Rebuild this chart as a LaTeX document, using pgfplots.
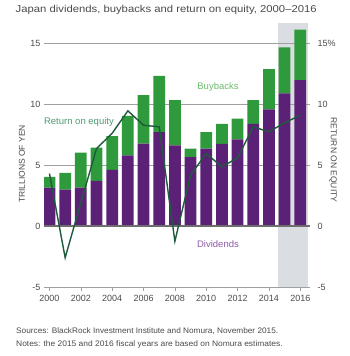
\documentclass[border=0pt]{standalone}
\usepackage{pgfplots}
\pgfplotsset{compat=1.18}
\usepackage{fontspec}
\setmainfont{Liberation Sans}
\usepackage{graphicx}
\definecolor{purp}{HTML}{5B2176}
\definecolor{grn}{HTML}{2F9A3C}
\definecolor{roe}{HTML}{1E5A3C}
\definecolor{gridc}{HTML}{A0A0A0}
\definecolor{zeroc}{HTML}{6E6E6E}
\definecolor{shadegray}{HTML}{DADDE1}
\definecolor{txt}{HTML}{4A4A4A}
\definecolor{lblg}{HTML}{6DBB6E}
\definecolor{lblroe}{HTML}{4F9A72}
\definecolor{lblp}{HTML}{8E5AAA}

\pgfplotstableread{
year div buy
2000 3.15 0.88
2001 2.99 1.37
2002 3.15 2.87
2003 3.70 2.73
2004 4.60 2.76
2005 5.78 3.25
2006 6.76 3.96
2007 7.69 4.61
2008 6.61 3.71
2009 5.64 0.71
2010 6.35 1.34
2011 6.74 1.64
2012 7.11 1.70
2013 8.38 1.93
2014 9.55 3.30
2015 10.88 3.77
2016 11.95 4.15
}\bars

\pgfplotstableread{
year roe
2000 4.30
2001 -2.60
2002 1.90
2003 6.35
2004 7.60
2005 9.44
2006 8.26
2007 8.13
2008 -1.25
2009 4.17
2010 5.94
2011 4.85
2012 5.59
2013 8.13
2014 7.72
2015 8.46
2016 9.08
}\roetab

\begin{document}
\begin{tikzpicture}
\useasboundingbox (0pt,0pt) rectangle (350pt,356pt);
\pgfplotsset{
  base/.style={
    at={(44pt,69pt)}, anchor=south west, scale only axis,
    width=266pt, height=264pt,
    xmin=1999.65, xmax=2016.62, ymin=-5, ymax=16.64,
    ytick={-5,0,5,10,15},
    tick label style={font=\fontsize{9}{10}\selectfont, text=txt},
    /pgf/number format/assume math mode=true,
  }
}
% background: shaded forecast region and grid lines
\begin{axis}[base, hide axis, clip=false]
\fill[fill=shadegray] (axis cs:2014.55,-5) rectangle (axis cs:2016.5,16.64);
\draw[gridc, line width=0.8pt] (axis cs:1999.65,5) -- (axis cs:2016.62,5);
\draw[gridc, line width=0.8pt] (axis cs:1999.65,10) -- (axis cs:2016.62,10);
\draw[gridc, line width=0.8pt] (axis cs:1999.65,15) -- (axis cs:2016.62,15);
\end{axis}

% bars
\begin{axis}[base,
  axis x line=none,
  axis y line*=left, y axis line style={draw=none},
  major tick length=0pt,
  yticklabels={-5,0,5,10,15},
  ybar stacked, bar width=0.75,
]
\addplot[fill=purp, draw=none] table[x=year, y=div] {\bars};
\addplot[fill=grn, draw=none] table[x=year, y=buy] {\bars};
\end{axis}

% ROE line, x axis, right labels
\begin{axis}[base,
  axis x line*=bottom, axis y line*=right,
  y axis line style={draw=none}, x axis line style={draw=gridc, line width=0.8pt},
  ytick style={draw=none},
  yticklabels={-5,0,5,10,15\%},
  xtick={2000,2002,...,2016},
  xticklabels={2000,2002,2004,2006,2008,2010,2012,2014,2016},
  xtick style={draw=gridc, line width=0.6pt},
  tick align=outside, major tick length=4pt,
  xticklabel style={yshift=-1pt},
]
\draw[zeroc, line width=1.1pt] (axis cs:1999.65,0) -- (axis cs:2016.62,0);
\addplot[roe, line width=1.4pt, mark=none] table[x=year, y=roe] {\roetab};
\node[text=lblg, font=\fontsize{9.5}{11}\selectfont] at (axis cs:2010.75,11.42) {Buybacks};
\node[text=lblroe, font=\fontsize{9.5}{11}\selectfont] at (axis cs:2001.88,8.55) {Return on equity};
\node[text=lblp, font=\fontsize{9.5}{11}\selectfont] at (axis cs:2010.75,-1.48) {Dividends};
\end{axis}

\node[rotate=90, text=txt, font=\fontsize{8.5}{10}\selectfont] at (22pt,192pt) {TRILLIONS OF YEN};
\node[rotate=-90, text=txt, font=\fontsize{8.5}{10}\selectfont] at (333pt,196pt) {RETURN ON EQUITY};
\node[anchor=west, inner sep=0pt, text=txt] at (15.5pt,346pt) {\resizebox{301pt}{\height}{\fontsize{10}{12}\selectfont Japan dividends, buybacks and return on equity, 2000–2016}};
\node[anchor=west, inner sep=0pt, text=txt] at (16pt,25pt) {\resizebox{262pt}{\height}{\fontsize{8}{10}\selectfont Sources: BlackRock Investment Institute and Nomura, November 2015.}};
\node[anchor=west, inner sep=0pt, text=txt] at (16pt,11.8pt) {\resizebox{266.5pt}{\height}{\fontsize{8}{10}\selectfont Notes: the 2015 and 2016 fiscal years are based on Nomura estimates.}};
\end{tikzpicture}
\end{document}
